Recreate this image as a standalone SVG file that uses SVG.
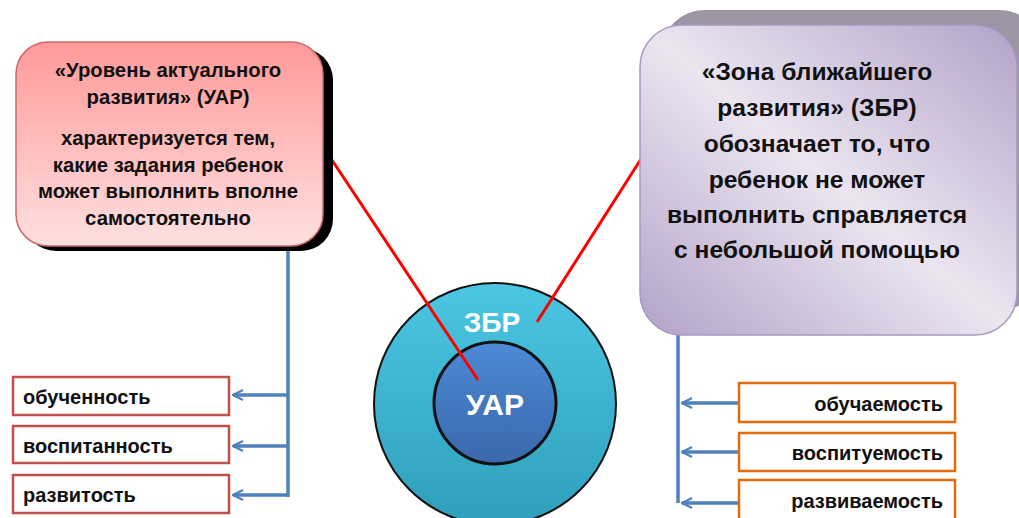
<svg xmlns="http://www.w3.org/2000/svg" width="1019" height="518" viewBox="0 0 1019 518">
<style>
.t{font-family:"Liberation Sans",Arial,sans-serif;font-weight:bold;fill:#111}
.lt{font-size:20.3px;text-anchor:middle}
.rt{font-size:24.6px;text-anchor:middle}
.st{font-size:20px}
.wt{font-family:"Liberation Sans",Arial,sans-serif;font-weight:bold;fill:#fff;text-anchor:middle}
.lb{fill:#fff;stroke:#c0504d;stroke-width:2.5}
.rb{fill:#fff;stroke:#e36c09;stroke-width:2.5}
.bl{stroke:#4f81bd;stroke-width:3.5;fill:none}
.rl{stroke:#ff0000;stroke-width:3;fill:none}
</style>
<defs>
<linearGradient id="pink" x1="0" y1="0" x2="0" y2="1">
<stop offset="0" stop-color="#ff9999"/>
<stop offset="1" stop-color="#ffe0e0"/>
</linearGradient>
<linearGradient id="purp" x1="1" y1="0" x2="0" y2="1">
<stop offset="0" stop-color="#b3a2c8"/>
<stop offset="0.5" stop-color="#ebe5f0"/>
<stop offset="1" stop-color="#b3a2c8"/>
</linearGradient>
<linearGradient id="outer" x1="0" y1="0" x2="0" y2="1">
<stop offset="0" stop-color="#4cc6e3"/>
<stop offset="1" stop-color="#2e9fba"/>
</linearGradient>
<linearGradient id="inner" x1="0" y1="0" x2="0" y2="1">
<stop offset="0" stop-color="#4c8ad6"/>
<stop offset="1" stop-color="#3a68ab"/>
</linearGradient>
<marker id="ah" viewBox="0 0 12 12" refX="11" refY="6" markerWidth="12" markerHeight="12" markerUnits="userSpaceOnUse" orient="auto">
<path d="M1 1 L11 6 L1 11" fill="none" stroke="#4f81bd" stroke-width="2.2"/>
</marker>
</defs>

<g id="zbr-circle">
<circle cx="495" cy="404" r="121" fill="url(#outer)" stroke="#111" stroke-width="2"/>
<text class="wt" x="492" y="332" font-size="28">ЗБР</text>
</g>

<g id="uar-circle">
<circle cx="495" cy="403" r="61" fill="url(#inner)" stroke="#111" stroke-width="3"/>
<text class="wt" x="495" y="415" font-size="30">УАР</text>
</g>

<g id="connectors">
<line class="rl" x1="322" y1="145" x2="478" y2="380"/>
<line class="rl" x1="537" y1="322" x2="641" y2="159"/>
<line class="bl" x1="288" y1="240" x2="288" y2="497"/>
<line class="bl" x1="288" y1="395" x2="233" y2="395" marker-end="url(#ah)"/>
<line class="bl" x1="288" y1="446" x2="233" y2="446" marker-end="url(#ah)"/>
<line class="bl" x1="288" y1="495" x2="233" y2="495" marker-end="url(#ah)"/>
<line class="bl" x1="678" y1="330" x2="678" y2="503"/>
<line class="bl" x1="739" y1="403" x2="682" y2="403" marker-end="url(#ah)"/>
<line class="bl" x1="739" y1="452" x2="682" y2="452" marker-end="url(#ah)"/>
<line class="bl" x1="739" y1="503" x2="682" y2="503" marker-end="url(#ah)"/>
</g>

<g id="uar-box">
<rect x="24" y="48" width="309" height="203" rx="32" fill="#000"/>
<rect x="16" y="42" width="307" height="204" rx="32" fill="url(#pink)" stroke="#c9696a" stroke-width="1.5"/>
<text class="t lt" x="168" y="77">«Уровень актуального</text>
<text class="t lt" x="168" y="104">развития» (УАР)</text>
<text class="t lt" x="168" y="145">характеризуется тем,</text>
<text class="t lt" x="168" y="172">какие задания ребенок</text>
<text class="t lt" x="168" y="198">может выполнить вполне</text>
<text class="t lt" x="168" y="225">самостоятельно</text>
</g>

<g id="zbr-box">
<rect x="662" y="10" width="380" height="300" rx="42" fill="#9c95a6"/>
<rect x="640" y="25" width="377" height="310" rx="42" fill="url(#purp)" stroke="#a898bf" stroke-width="1.5"/>
<text class="t rt" x="817" y="80">«Зона ближайшего</text>
<text class="t rt" x="817" y="116">развития» (ЗБР)</text>
<text class="t rt" x="817" y="152">обозначает то, что</text>
<text class="t rt" x="817" y="188">ребенок не может</text>
<text class="t rt" x="817" y="223">выполнить справляется</text>
<text class="t rt" x="817" y="258">с небольшой помощью</text>
</g>

<g id="obuchennost"><rect class="lb" x="13" y="377" width="216" height="38"/><text class="t st" x="23" y="404">обученность</text></g>
<g id="vospitannost"><rect class="lb" x="13" y="426" width="216" height="37"/><text class="t st" x="23" y="453">воспитанность</text></g>
<g id="razvitost"><rect class="lb" x="13" y="475" width="216" height="38"/><text class="t st" x="23" y="502">развитость</text></g>

<g id="obuchaemost"><rect class="rb" x="739" y="383" width="216" height="39"/><text class="t st" x="943" y="411" text-anchor="end">обучаемость</text></g>
<g id="vospituemost"><rect class="rb" x="739" y="433" width="216" height="38"/><text class="t st" x="943" y="460" text-anchor="end">воспитуемость</text></g>
<g id="razvivaemost"><rect class="rb" x="739" y="480" width="216" height="42"/><text class="t st" x="943" y="508" text-anchor="end">развиваемость</text></g>
</svg>
